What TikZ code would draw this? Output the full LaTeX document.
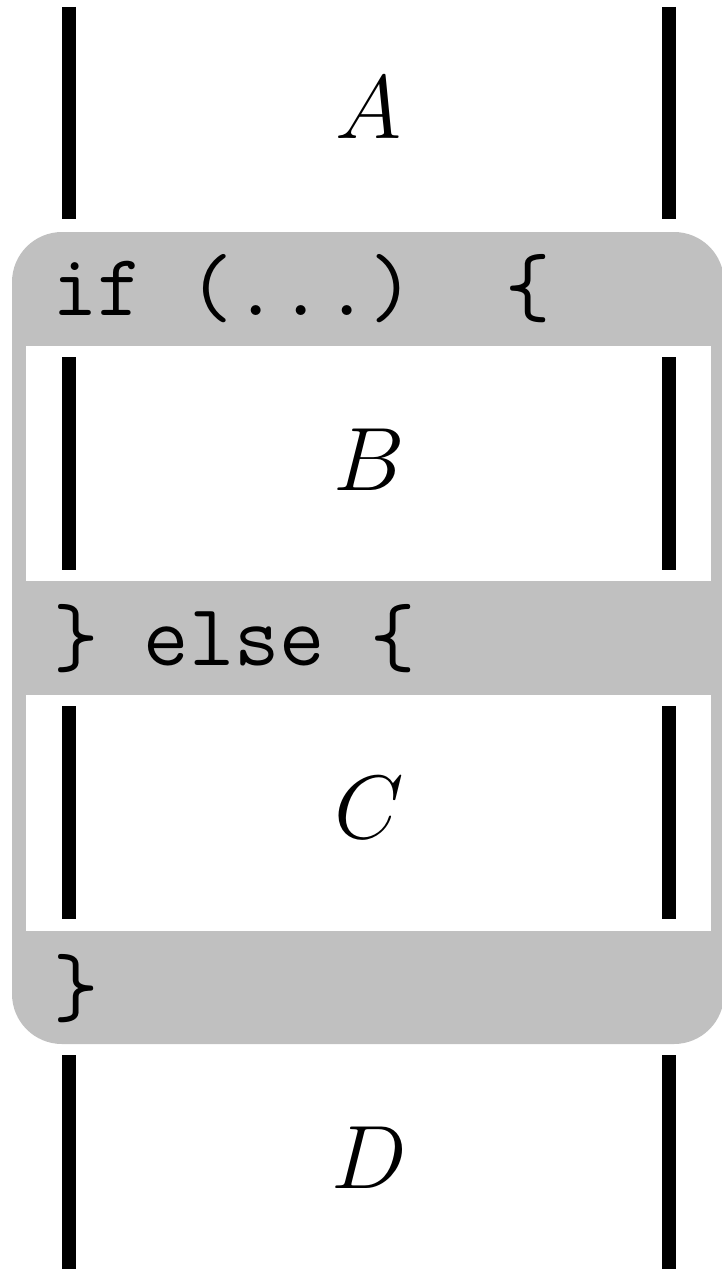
\RequirePackage{fix-cm}
\documentclass[tikz,border=0pt]{standalone}
\usepackage{fontspec}
\definecolor{bandgray}{RGB}{192,192,192}
\begin{document}
\begin{tikzpicture}[x=1pt,y=-1pt,
  bar/.style={line width=14pt},
  band/.style={fill=bandgray},
  blank/.style={fill=white},
  code/.style={anchor=base west,inner sep=0pt,font=\fontsize{88}{100}\selectfont\ttfamily},
  var/.style={anchor=base,inner sep=0pt,font=\fontsize{90}{100}\selectfont}]
\useasboundingbox (0,0) rectangle (721,1271);
% grey if/else block
\fill[band,rounded corners=50pt] (12,232) rectangle (724,1044);
\fill[blank] (26,346) rectangle (711,581);
\fill[blank] (26,695) rectangle (711,931);
% bars
\coordinate (a1) at (69,7);    \coordinate (a2) at (69,219);
\coordinate (a3) at (669,7);   \coordinate (a4) at (669,219);
\coordinate (b1) at (69,357);  \coordinate (b2) at (69,570);
\coordinate (b3) at (669,357); \coordinate (b4) at (669,570);
\coordinate (c1) at (69,706);  \coordinate (c2) at (69,919);
\coordinate (c3) at (669,706); \coordinate (c4) at (669,919);
\coordinate (d1) at (69,1055); \coordinate (d2) at (69,1269);
\coordinate (d3) at (669,1055);\coordinate (d4) at (669,1269);
\draw[bar] (a1) -- (a2); \draw[bar] (a3) -- (a4);
\draw[bar] (b1) -- (b2); \draw[bar] (b3) -- (b4);
\draw[bar] (c1) -- (c2); \draw[bar] (c3) -- (c4);
\draw[bar] (d1) -- (d2); \draw[bar] (d3) -- (d4);
% labels
\node[var] (A) at (369,139) {$A$};
\node[var] (B) at (369,490) {$B$};
\node[var] (C) at (369,838) {$C$};
\node[var] (D) at (369,1188) {$D$};
% code
\node[code] (if) at (52,315) {if~(...)~~\{};
\node[code] (else) at (53,665) {\}~else~\{};
\node[code] (end) at (53,1015) {\}};
\end{tikzpicture}
\end{document}
